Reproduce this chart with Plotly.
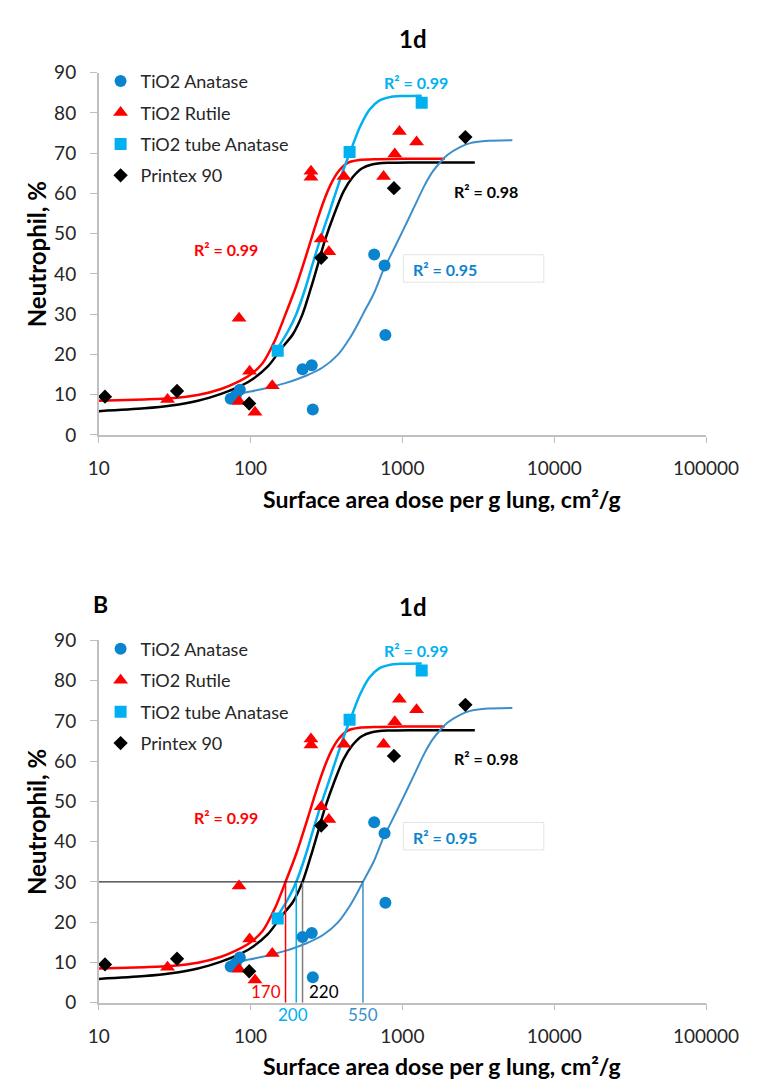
import math
import plotly.graph_objects as go

W, H = 773, 1089

# ---------------- data ----------------
anatase_x = [74, 80, 85, 220, 253, 257, 652, 763, 773]
anatase_y = [9.0, 9.8, 11.2, 16.3, 17.3, 6.3, 44.8, 42.1, 24.8]

rutile_x = [28.4, 84, 84, 98.6, 107, 139, 250, 250, 292, 328, 412, 752, 891, 956, 1240]
rutile_y = [8.8, 29.0, 8.3, 15.8, 5.6, 12.2, 64.0, 65.5, 48.7, 45.5, 64.2, 64.2, 69.8, 75.4, 72.8]

tube_x = [151, 449, 1340]
tube_y = [20.9, 70.3, 82.5]

printex_x = [11, 32.8, 98, 292, 880, 2600]
printex_y = [9.5, 10.9, 7.8, 44.0, 61.3, 74.0]

# fitted curves
red_fit_x = [10, 20, 30, 45, 64, 80, 100, 120, 145, 170, 200, 232, 260, 284, 310, 340, 380, 437, 520, 700, 1000, 1900]
red_fit_y = [8.5, 8.8, 9.1, 9.9, 11.4, 12.9, 15.0, 17.8, 23.5, 30.0, 37.0, 44.5, 50.5, 55.0, 59.0, 62.5, 65.5, 67.6, 68.3, 68.5, 68.6, 68.6]

black_fit_x = [10, 20, 30, 45, 64, 80, 100, 130, 160, 190, 220, 250, 276, 310, 357, 410, 470, 540, 630, 800, 1200, 3000]
black_fit_y = [5.9, 6.6, 7.3, 8.5, 10.2, 11.6, 13.5, 17.0, 21.5, 25.0, 30.0, 36.5, 42.0, 48.5, 55.0, 60.5, 64.0, 66.2, 67.2, 67.6, 67.7, 67.7]

cyan_fit_x = [151, 175, 200, 230, 257, 290, 328, 370, 410, 455, 525, 607, 700, 850, 1000, 1340]
cyan_fit_y = [21.6, 25.5, 30.0, 36.5, 42.6, 49.0, 55.0, 61.0, 66.0, 70.5, 76.5, 80.8, 83.0, 84.0, 84.2, 84.3]

blue_fit_x = [85, 120, 167, 232, 300, 378, 450, 500, 550, 650, 750, 830, 1000, 1188, 1400, 1582, 1800, 1986, 2400, 2800, 3500, 5300]
blue_fit_y = [10.3, 11.4, 12.8, 14.7, 16.8, 20.0, 24.0, 27.0, 30.0, 35.2, 41.0, 44.3, 50.5, 56.4, 62.0, 65.4, 68.0, 69.6, 71.5, 72.5, 73.0, 73.2]

series_names = ["TiO2 Anatase", "TiO2 Rutile", "TiO2 tube Anatase", "Printex 90"]

x_tick_vals = [10, 100, 1000, 10000, 100000]
x_tick_text = ["10", "100", "1000", "10000", "100000"]
y_tick_vals = [0, 10, 20, 30, 40, 50, 60, 70, 80, 90]

r2_texts = ["R² = 0.99", "R² = 0.99", "R² = 0.98", "R² = 0.95"]

threshold_level = 30
threshold_x = [170, 200, 220, 550]
threshold_labels = ["170", "200", "220", "550"]

# ---------------- styling ----------------
BLUE_PT = "#0B84CF"
BLUE_LN = "#3D8FCB"
RED = "#FF0000"
CYAN = "#00B0F0"
BLACK = "#000000"
AXIS = "#BFBFBF"
TXT = "#262626"
FONT = "Lato"


def px2x(px):
    return px / W


def py2y(py):
    return 1 - py / H


fig = go.Figure()

X0, X1 = 93, 737
panels = [
    dict(top=62, bottom=432, xa="x", ya="y", leg="legend", off=0),
    dict(top=642, bottom=1012, xa="x2", ya="y2", leg="legend2", off=580),
]

for p in panels:
    xa, ya, leg = p["xa"], p["ya"], p["leg"]
    for fx, fy, col, w in [(red_fit_x, red_fit_y, RED, 2.5),
                           (black_fit_x, black_fit_y, BLACK, 2.5),
                           (cyan_fit_x, cyan_fit_y, CYAN, 2.5),
                           (blue_fit_x, blue_fit_y, BLUE_LN, 2)]:
        fig.add_trace(go.Scatter(x=fx, y=fy, mode="lines",
                                 line=dict(color=col, width=w, shape="spline", smoothing=0.8),
                                 showlegend=False, hoverinfo="skip", xaxis=xa, yaxis=ya))
    if p["off"] > 0:
        fig.add_trace(go.Scatter(x=[10, threshold_x[3]], y=[threshold_level, threshold_level], mode="lines",
                                 line=dict(color="#000000", width=1), showlegend=False, hoverinfo="skip",
                                 xaxis=xa, yaxis=ya))
        for tx, col in zip(threshold_x, [RED, CYAN, "#7F7F7F", BLUE_LN]):
            fig.add_trace(go.Scatter(x=[tx, tx], y=[0, threshold_level], mode="lines",
                                     line=dict(color=col, width=1.5), showlegend=False, hoverinfo="skip",
                                     xaxis=xa, yaxis=ya))
    fig.add_trace(go.Scatter(x=anatase_x, y=anatase_y, mode="markers", name=series_names[0],
                             marker=dict(symbol="circle", size=12, color=BLUE_PT),
                             xaxis=xa, yaxis=ya, legend=leg, legendgroup=leg + "a"))
    fig.add_trace(go.Scatter(x=rutile_x, y=rutile_y, mode="markers", name=series_names[1],
                             marker=dict(symbol="triangle-up", size=13, color=RED),
                             xaxis=xa, yaxis=ya, legend=leg, legendgroup=leg + "b"))
    fig.add_trace(go.Scatter(x=tube_x, y=tube_y, mode="markers", name=series_names[2],
                             marker=dict(symbol="square", size=12, color=CYAN),
                             xaxis=xa, yaxis=ya, legend=leg, legendgroup=leg + "c"))
    fig.add_trace(go.Scatter(x=printex_x, y=printex_y, mode="markers", name=series_names[3],
                             marker=dict(symbol="diamond", size=11, color=BLACK),
                             xaxis=xa, yaxis=ya, legend=leg, legendgroup=leg + "d"))

annotations = []
shapes = []
for i, p in enumerate(panels):
    o = p["off"]
    annotations.append(dict(text="<b>1d</b>", x=px2x(426), y=py2y(27 + o), xref="paper", yref="paper",
                            showarrow=False, font=dict(family=FONT, size=24, color=BLACK),
                            xanchor="center", yanchor="middle"))
    annotations.append(dict(text="<b>Surface area dose per g lung, cm²/g</b>", x=px2x(457), y=py2y(497 + o),
                            xref="paper", yref="paper", showarrow=False,
                            font=dict(family=FONT, size=23, color=BLACK), xanchor="center", yanchor="middle"))
    annotations.append(dict(text="<b>Neutrophil, %</b>", x=px2x(27), y=py2y(247 + o), xref="paper", yref="paper",
                            showarrow=False, textangle=-90, font=dict(family=FONT, size=24, color=BLACK),
                            xanchor="center", yanchor="middle"))
    for txt, cx, cy, col in [(r2_texts[0], 429, 72, CYAN), (r2_texts[1], 228, 243, RED),
                             (r2_texts[2], 504, 183, BLACK)]:
        annotations.append(dict(text="<b>" + txt + "</b>", x=px2x(cx), y=py2y(cy + o), xref="paper", yref="paper",
                                showarrow=False, font=dict(family=FONT, size=16, color=col),
                                xanchor="center", yanchor="middle"))
    shapes.append(dict(type="rect", xref="paper", yref="paper", x0=px2x(416), x1=px2x(565),
                       y0=py2y(276 + o), y1=py2y(248 + o), line=dict(color="#E3E3E3", width=1),
                       fillcolor="white", layer="above"))
    annotations.append(dict(text="<b>" + r2_texts[3] + "</b>", x=px2x(460), y=py2y(263 + o), xref="paper",
                            yref="paper", showarrow=False, font=dict(family=FONT, size=16, color=BLUE_PT),
                            xanchor="center", yanchor="middle"))

annotations.append(dict(text="<b>B</b>", x=px2x(95), y=py2y(605), xref="paper", yref="paper", showarrow=False,
                        font=dict(family=FONT, size=23, color=BLACK), xanchor="center", yanchor="middle"))

lab_specs = [
    dict(xanchor="right", xshift=-3, yshift=11, color=RED),
    dict(xanchor="center", xshift=-3, yshift=-12, color=CYAN),
    dict(xanchor="left", xshift=4, yshift=11, color=BLACK),
    dict(xanchor="center", xshift=0, yshift=-12, color=BLUE_LN),
]
for tx, tl, s in zip(threshold_x, threshold_labels, lab_specs):
    annotations.append(dict(text=tl, x=math.log10(tx), y=0, xref="x2", yref="y2", showarrow=False,
                            xanchor=s["xanchor"], yanchor="middle", xshift=s["xshift"], yshift=s["yshift"],
                            font=dict(family=FONT, size=17, color=s["color"])))

xaxis_common = dict(type="log", range=[1, 5], tickvals=x_tick_vals, ticktext=x_tick_text,
                    showline=True, linecolor=AXIS, linewidth=1.5, ticks="outside", ticklen=6, tickcolor=AXIS,
                    showgrid=False, zeroline=False, tickfont=dict(family=FONT, size=19, color=TXT),
                    ticklabelstandoff=10, domain=[px2x(X0), px2x(X1)])
yaxis_common = dict(range=[0, 90], tickvals=y_tick_vals, showline=True, linecolor=AXIS, linewidth=1.5,
                    ticks="outside", ticklen=7, tickcolor=AXIS, showgrid=False, zeroline=False,
                    tickfont=dict(family=FONT, size=19, color=TXT), ticklabelstandoff=10)

legend_common = dict(font=dict(family=FONT, size=18, color=TXT), bgcolor="rgba(0,0,0,0)", borderwidth=0,
                     xanchor="left", yanchor="top", tracegroupgap=5, itemclick=False, itemdoubleclick=False)

fig.update_layout(
    width=W, height=H, margin=dict(l=0, r=0, t=0, b=0),
    paper_bgcolor="white", plot_bgcolor="white",
    xaxis=dict(**xaxis_common, anchor="y"),
    yaxis=dict(**yaxis_common, anchor="x", domain=[py2y(432), py2y(62)]),
    xaxis2=dict(**xaxis_common, anchor="y2"),
    yaxis2=dict(**yaxis_common, anchor="x2", domain=[py2y(1012), py2y(642)]),
    legend=dict(**legend_common, x=px2x(95), y=py2y(52)),
    legend2=dict(**legend_common, x=px2x(95), y=py2y(632)),
    annotations=annotations, shapes=shapes,
    font=dict(family=FONT),
)

fig.write_html("out.html")
